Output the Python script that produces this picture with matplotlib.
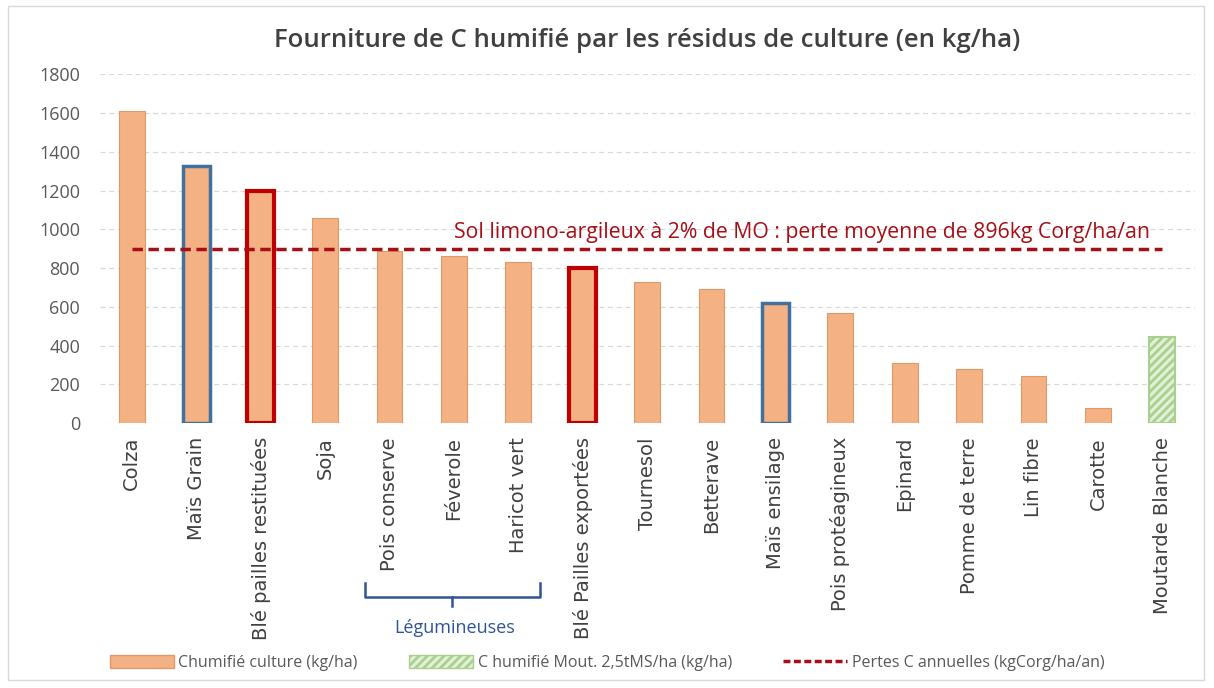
import matplotlib.pyplot as plt
from matplotlib.patches import Rectangle, Patch
from matplotlib.lines import Line2D
import numpy as np

plt.rcParams['font.family'] = ['Open Sans', 'DejaVu Sans']

# crop residues and humified carbon supplied (kg/ha)
crops = ["Colza", "Maïs Grain", "Blé pailles restituées", "Soja", "Pois conserve",
         "Féverole", "Haricot vert", "Blé Pailles exportées", "Tournesol", "Betterave",
         "Maïs ensilage", "Pois protéagineux", "Epinard", "Pomme de terre", "Lin fibre",
         "Carotte"]
c_humified = [1610, 1325, 1200, 1060, 890, 860, 830, 800, 730, 690, 620, 570, 310, 280, 245, 80]

# cover crop
cover_label = "Moutarde Blanche"
cover_value = 445

# annual carbon loss
loss = 896

edge_blue = ["Maïs Grain", "Maïs ensilage"]
edge_red = ["Blé pailles restituées", "Blé Pailles exportées"]

orange = "#f4b183"
fig = plt.figure(figsize=(12.14, 6.88), dpi=100)
ax = fig.add_axes([0.082, 0.385, 0.902, 0.507])

x = np.arange(len(crops))
for xi, name, v in zip(x, crops, c_humified):
    if name in edge_blue:
        ax.bar(xi, v, width=0.42, color=orange, edgecolor="#41719c", linewidth=2.5, zorder=3)
    elif name in edge_red:
        ax.bar(xi, v, width=0.42, color=orange, edgecolor="#c00000", linewidth=3, zorder=3)
    else:
        ax.bar(xi, v, width=0.4, color=orange, edgecolor="#dd9a66", linewidth=0.8, zorder=3)

xc = len(crops)
plt.rcParams['hatch.color'] = "#a9d18e"
plt.rcParams['hatch.linewidth'] = 2.0
ax.bar(xc, cover_value, width=0.4, color="#e2f0d9", edgecolor="#a9d18e",
       hatch="////", linewidth=1.5, zorder=3)

all_x = np.arange(len(crops) + 1)
ax.plot(all_x, [loss] * len(all_x), color="#a50f15", linestyle=(0, (3, 1.6)),
        linewidth=2.5, zorder=4)
ax.text(10.4, loss + 90, "Sol limono-argileux à 2% de MO : perte moyenne de 896kg Corg/ha/an",
        color="#a50f15", fontsize=15.3, ha="center", va="center")

ax.set_xlim(-0.5, len(crops) + 0.5)
ax.set_ylim(0, 1800)
ax.set_yticks(np.arange(0, 1801, 200))
ax.tick_params(axis="y", colors="#595959", labelsize=13, length=0, pad=14)
ax.tick_params(axis="x", length=0, pad=10)
ax.set_xticks(all_x)
ax.set_xticklabels(crops + [cover_label], rotation=90, fontsize=14, color="#404040",
                   family=["DejaVu Sans"])
ax.grid(axis="y", color="#d9d9d9", linestyle=(0, (4, 3)), linewidth=0.9, zorder=0)
for s in ax.spines.values():
    s.set_visible(False)

ax.set_title("Fourniture de C humifié par les résidus de culture (en kg/ha)",
             fontsize=18.5, color="#404040", pad=20, weight="semibold")

# brace under the legumes
bc = "#2f5597"
fig.add_artist(Line2D([365 / 1214, 365 / 1214, 540 / 1214, 540 / 1214],
                      [1 - 583 / 688, 1 - 597 / 688, 1 - 597 / 688, 1 - 583 / 688],
                      color=bc, linewidth=1.8))
fig.add_artist(Line2D([452 / 1214, 452 / 1214], [1 - 597 / 688, 1 - 606 / 688],
                      color=bc, linewidth=1.8))
fig.text(455 / 1214, 1 - 628 / 688, "Légumineuses", color=bc, fontsize=13,
         ha="center", va="center")

# legend
handles = [Patch(facecolor=orange, edgecolor="#dd9a66", label="Chumifié culture (kg/ha)"),
           Patch(facecolor="#e2f0d9", edgecolor="#a9d18e", hatch="////",
                 label="C humifié Mout. 2,5tMS/ha (kg/ha)"),
           Line2D([0], [0], color="#a50f15", linestyle=(0, (2, 1)), linewidth=2.5,
                  label="Pertes C annuelles (kgCorg/ha/an)")]
fig.legend(handles=handles, loc="center", bbox_to_anchor=(0.5, 1 - 663 / 688), ncol=3,
           frameon=False, fontsize=11.5, labelcolor="#595959", handlelength=4,
           handleheight=0.9, columnspacing=3.2, handletextpad=0.3)

# outer frame
fig.add_artist(Rectangle((8 / 1214, 8 / 688), 1196 / 1214, 674 / 688, fill=False,
                         edgecolor="#d9d9d9", linewidth=1, transform=fig.transFigure))

fig.savefig("out.png", dpi=100, facecolor="white")
